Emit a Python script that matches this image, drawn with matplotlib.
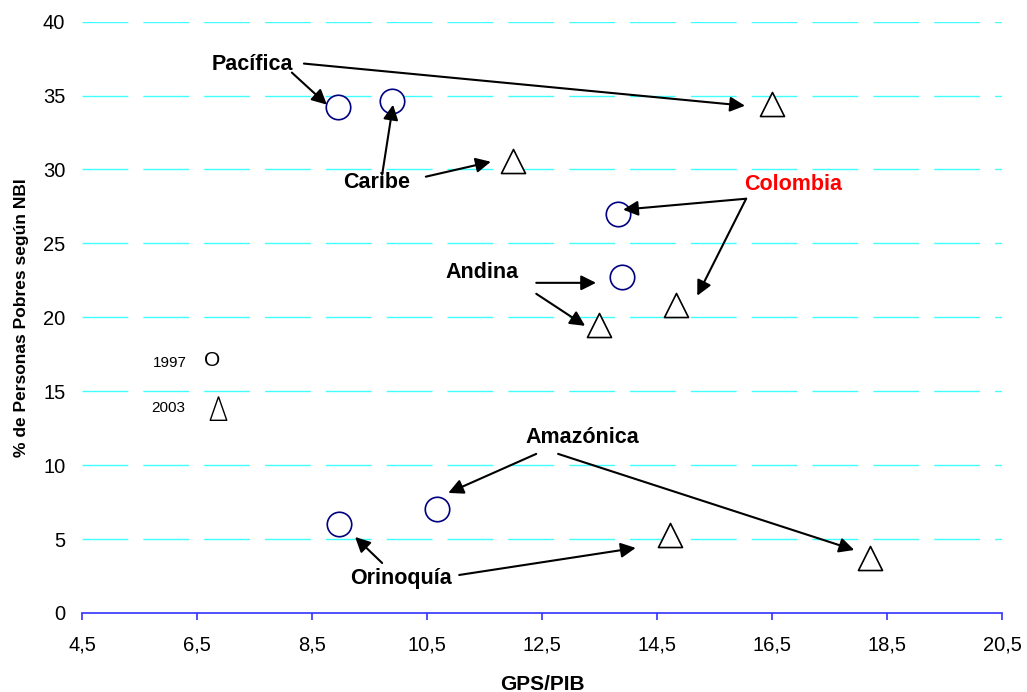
import numpy as np
import matplotlib.pyplot as plt

plt.rcParams['font.family'] = ['Liberation Sans', 'DejaVu Sans']

regions = ['Pacífica', 'Caribe', 'Colombia', 'Andina', 'Amazónica', 'Orinoquía']
gps_1997 = [8.95, 9.89, 13.82, 13.89, 10.67, 8.97]
nbi_1997 = [34.2, 34.6, 27.0, 22.7, 7.0, 6.0]
gps_2003 = [16.5, 12.0, 14.83, 13.49, 14.73, 18.2]
nbi_2003 = [34.4, 30.6, 20.8, 19.5, 5.3, 3.7]

# label text positions (data units)
label_x = [7.46, 9.63, 16.87, 11.46, 13.21, 10.05]
label_y = [37.1, 29.1, 28.97, 23.0, 11.9, 2.3]

# arrows: start -> end (data units)
arrows = [
    ((8.15, 36.55), (8.76, 34.38)),
    ((8.36, 37.16), (16.03, 34.31)),
    ((9.72, 29.64), (9.91, 34.38)),
    ((10.48, 29.51), (11.61, 30.52)),
    ((16.05, 28.02), (13.91, 27.28)),
    ((16.05, 28.02), (15.20, 21.46)),
    ((12.40, 22.33), (13.44, 22.33)),
    ((12.40, 21.59), (13.25, 19.42)),
    ((12.40, 10.76), (10.87, 8.12)),
    ((12.78, 10.76), (17.93, 4.26)),
    ((9.72, 3.38), (9.25, 5.14)),
    ((11.06, 2.57), (14.13, 4.40)),
]

fig = plt.figure(figsize=(10.27, 6.92), dpi=100)
ax = fig.add_axes([0.0798, 0.1142, 0.8959, 0.8546])

ax.set_xlim(4.5, 20.5)
ax.set_ylim(0, 40)
xt = np.arange(4.5, 20.6, 2)
ax.set_xticks(xt)
ax.set_xticklabels([f'{v:.1f}'.replace('.', ',') for v in xt])
ax.set_yticks(range(0, 41, 5))

for yv in range(5, 41, 5):
    ax.axhline(yv, color='#40ffff', lw=1.0, dashes=(33, 10.8), zorder=0)

ax.scatter(gps_1997, nbi_1997, s=310, facecolors='white', edgecolors='#000080', lw=1.2, zorder=3)
ax.scatter(gps_2003, nbi_2003, s=300, marker='^', facecolors='white', edgecolors='black', lw=1.2, zorder=3)

for name, lx, ly in zip(regions, label_x, label_y):
    ax.text(lx, ly, name, ha='center', va='center', fontsize=15.5, fontweight='bold',
            color='red' if name == 'Colombia' else 'black')

for (x0, y0), (x1, y1) in arrows:
    ax.annotate('', xy=(x1, y1), xytext=(x0, y0),
                arrowprops=dict(arrowstyle='-|>,head_length=0.6,head_width=0.3', color='black',
                                lw=1.5, mutation_scale=15, shrinkA=0, shrinkB=0))

# legend
ax.text(6.03, 16.92, '1997', fontsize=11, ha='center', va='center')
ax.text(6.76, 17.06, 'O', fontsize=15, ha='center', va='center')
ax.text(6.0, 13.87, '2003', fontsize=11, ha='center', va='center')
tall_tri = [(0, 1), (-0.7, -1), (0.7, -1), (0, 1)]
ax.plot([6.86], [13.84], marker=tall_tri, ms=17, mfc='white', mec='black', mew=1, ls='none')

for s in ['top', 'right', 'left']:
    ax.spines[s].set_visible(False)
ax.spines['bottom'].set_color('#3333ff')
ax.spines['bottom'].set_linewidth(1.2)
ax.tick_params(axis='x', colors='#3333ff', length=5, width=1.2, direction='out',
               labelcolor='black', labelsize=14.5, pad=11)
ax.tick_params(axis='y', length=0, labelsize=14.5, pad=12)

ax.set_xlabel('GPS/PIB', fontsize=15, fontweight='bold', labelpad=15)
ax.set_ylabel('% de Personas Pobres según NBI', fontsize=12.5, fontweight='bold', labelpad=10)

fig.savefig('out.png', dpi=100)
